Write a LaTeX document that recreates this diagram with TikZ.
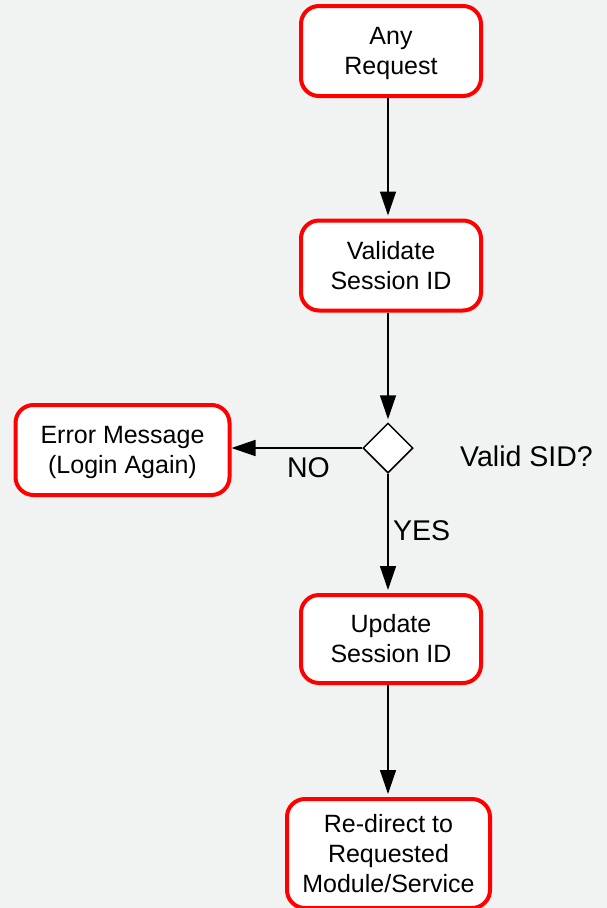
\documentclass[tikz,border=0pt]{standalone}
\usepackage{fontspec}
\setmainfont{Liberation Sans}
\usetikzlibrary{arrows.meta,shapes.geometric}
\definecolor{pagebg}{HTML}{F1F2F2}
\definecolor{boxred}{HTML}{FF0000}
% struts on the first and last line keep the baselines in the same place in every box
\newcommand{\firststrut}{\rule{0pt}{23pt}}
\newcommand{\laststrut}{\rule[-6pt]{0pt}{6pt}}
\begin{document}
\begin{tikzpicture}[x=1pt,y=-1pt,
  stepbox/.style={draw=boxred, line width=4pt, fill=white, rounded corners=18pt,
    minimum width=180pt, minimum height=90pt, align=center, inner sep=0pt,
    font=\fontsize{25}{30}\selectfont},
  decision/.style={draw, line width=1.5pt, fill=white, diamond, inner sep=0pt,
    minimum width=50pt, minimum height=50pt},
  flow/.style={line width=1.5pt, -{Triangle[length=24pt,width=16pt]}},
  lbl/.style={inner sep=0pt, font=\fontsize{28.5}{34}\selectfont}]
% page background and frame
\fill[pagebg] (0,0) rectangle (607,908);
\useasboundingbox (0,0) rectangle (607,908);

% process steps
\node[stepbox] (any) at (391,51) {\firststrut Any\\Request\laststrut};
\node[stepbox] (val) at (391,265.5) {\firststrut Validate\\Session ID\laststrut};
\node[decision] (dec) at (388,448) {};
\node[stepbox, minimum width=214pt] (err) at (122.5,450)
  {\firststrut Error Message\\(Login Again)\laststrut};
\node[stepbox, minimum height=88pt] (upd) at (391,639) {\firststrut Update\\Session ID\laststrut};
\node[stepbox, minimum width=203pt, minimum height=109pt] (redir) at (388.5,853.5)
  {\firststrut Re-direct to\\Requested\\Module/Service\laststrut};

% connectors
\draw[flow, shorten >=3pt] (any.south -| dec.north) -- (val.north -| dec.north);
\draw[flow, shorten >=3pt] (val.south -| dec.north) -- (dec.north);
\draw[flow] (dec.west) -- (err.east |- dec.west);
\draw[flow, shorten >=3pt] (dec.south) -- (upd.north -| dec.south);
\draw[flow, shorten >=3pt] (upd.south -| dec.south) -- (redir.north -| dec.south);

% branch labels
\node[lbl, anchor=base] (no) at (308.5,477) {NO};
\node[lbl, anchor=base west] (yes) at (393,540) {YES};
\node[lbl, anchor=base west] (ask) at (460,466.5) {Valid SID?};
\end{tikzpicture}
\end{document}
